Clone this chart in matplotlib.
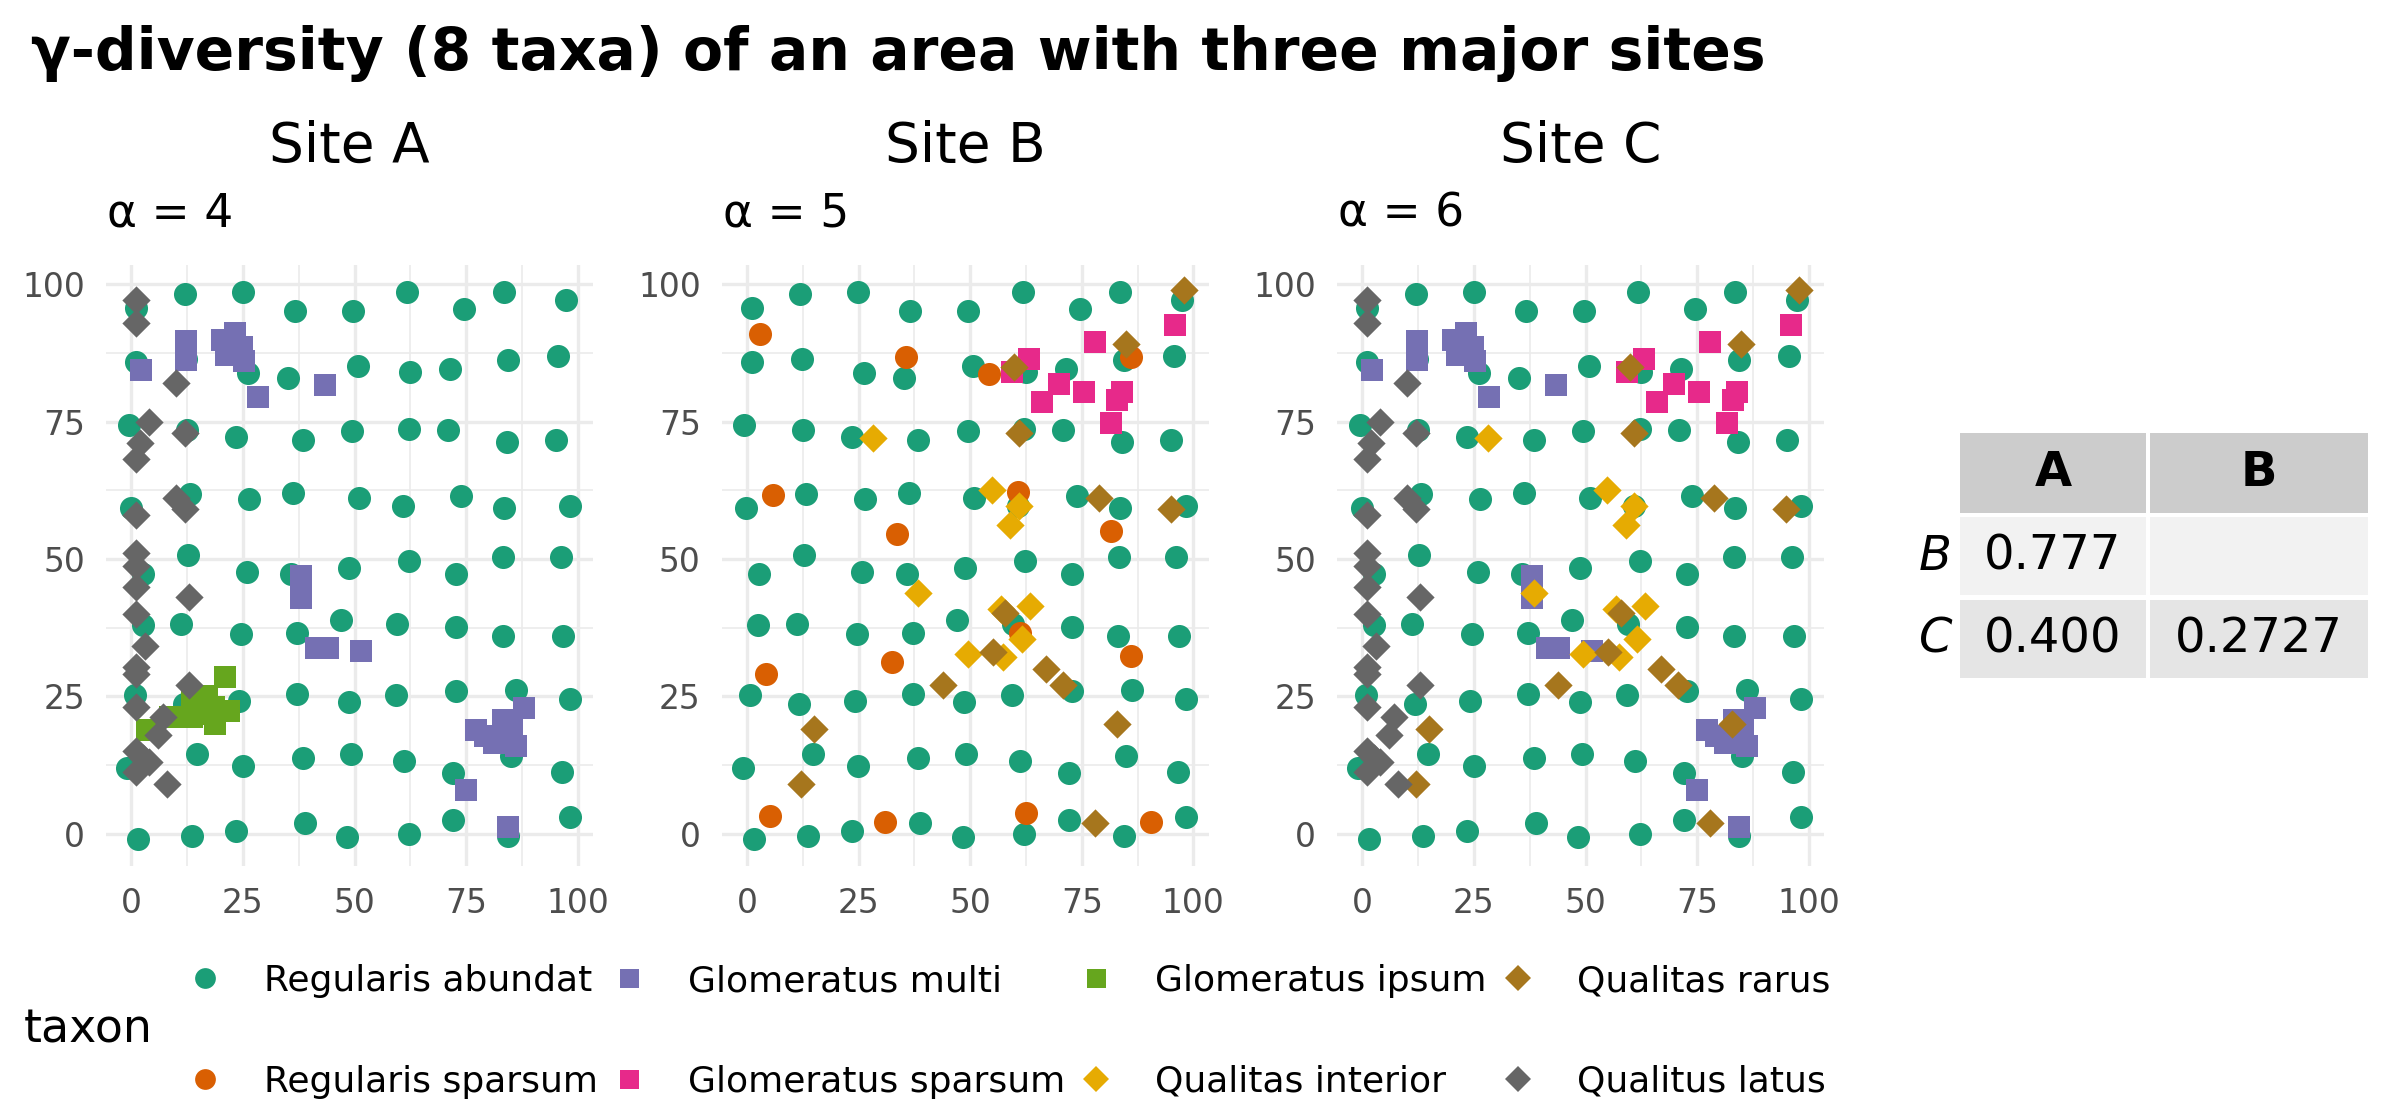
import matplotlib
matplotlib.use('Agg')
import matplotlib.pyplot as plt
from matplotlib.lines import Line2D
from matplotlib.patches import Rectangle
from matplotlib.ticker import MultipleLocator

plt.rcParams['font.family'] = ['DejaVu Sans']

# ---------------- data ----------------
taxa = ['Regularis abundat', 'Regularis sparsum', 'Glomeratus multi', 'Glomeratus sparsum',
        'Glomeratus ipsum', 'Qualitas interior', 'Qualitas rarus', 'Qualitus latus']
taxon_colors = ['#1B9E77', '#D95F02', '#7570B3', '#E7298A', '#66A61E', '#E6AB02', '#A6761D', '#666666']

reg_abundat_x = [1.0, 11.9, 24.9, 36.6, 49.6, 61.8, 74.5, 83.6, 97.5,
                 1.1, 12.2, 26.1, 35.2, 50.7, 62.4, 71.5, 84.5, 95.7,
                 -0.6, 12.5, 23.5, 38.4, 49.4, 62.1, 70.9, 84.1, 95.1,
                 -0.2, 13.1, 26.4, 36.2, 50.9, 60.8, 73.9, 83.6, 98.3,
                 2.6, 12.7, 25.8, 35.8, 48.8, 62.2, 72.7, 83.3, 96.2,
                 2.5, 11.1, 24.6, 37.2, 47.0, 59.6, 72.7, 83.2, 96.8,
                 0.7, 11.7, 24.2, 37.1, 48.7, 59.3, 72.8, 86.2, 98.4,
                 -1.0, 14.8, 24.9, 38.4, 49.1, 61.2, 72.1, 85.0, 96.5,
                 1.5, 13.6, 23.5, 38.8, 48.3, 62.1, 72.1, 84.5, 98.4]
reg_abundat_y = [95.7, 98.3, 98.5, 95.1, 95.1, 98.5, 95.4, 98.5, 97.1,
                 85.9, 86.3, 83.9, 83.0, 85.1, 84.0, 84.5, 86.2, 86.9,
                 74.3, 73.4, 72.2, 71.7, 73.3, 73.6, 73.4, 71.3, 71.6,
                 59.3, 61.9, 60.9, 62.0, 61.1, 59.7, 61.4, 59.3, 59.6,
                 47.3, 50.7, 47.7, 47.3, 48.3, 49.6, 47.3, 50.4, 50.3,
                 37.9, 38.1, 36.4, 36.6, 38.8, 38.2, 37.6, 35.9, 35.9,
                 25.2, 23.6, 24.2, 25.4, 24.0, 25.3, 26.0, 26.2, 24.5,
                 12.0, 14.5, 12.3, 13.7, 14.4, 13.2, 11.1, 14.2, 11.2,
                 -0.9, -0.4, 0.4, 1.9, -0.7, -0.1, 2.4, -0.5, 3.0]

reg_sparsum_x = [2.8, 35.5, 54.2, 86.0, 5.7, 60.6, 33.5, 81.6, 61.2, 32.4, 4.3, 86.0, 5.2, 31.0, 62.4, 90.5]
reg_sparsum_y = [90.9, 86.8, 83.7, 86.8, 61.7, 62.2, 54.6, 55.0, 36.5, 31.2, 29.0, 32.3, 3.2, 2.1, 3.8, 2.2]

glo_multi_x = [2.2, 12.3, 12.2, 20.3, 23.3, 24.8, 21.1, 25.3, 28.4, 43.3, 38.0, 37.9, 41.4, 44.1, 51.4,
               87.9, 77.2, 83.3, 79.3, 81.2, 85.3, 86.1, 83.4, 75.0, 84.3]
glo_multi_y = [84.4, 89.7, 86.2, 89.8, 91.1, 88.6, 87.1, 86.1, 79.4, 81.7, 46.8, 42.9, 33.8, 33.8, 33.3,
               22.8, 18.9, 20.7, 17.7, 16.5, 18.8, 16.0, 17.5, 8.0, 1.2]

glo_sparsum_x = [96.0, 78.0, 63.1, 59.4, 69.9, 75.4, 84.0, 83.0, 66.1, 81.6]
glo_sparsum_y = [92.5, 89.4, 86.3, 84.1, 81.9, 80.4, 80.4, 78.9, 78.5, 74.7]

glo_ipsum_x = [20.9, 17.0, 21.8, 18.5, 18.7, 13.6, 13.6, 8.7, 3.5, 15.5]
glo_ipsum_y = [28.5, 25.1, 22.4, 23.0, 19.9, 21.3, 24.2, 21.2, 18.8, 21.8]

qua_interior_x = [28.2, 54.9, 60.9, 59.0, 38.4, 56.9, 63.3, 61.6, 49.5, 57.4]
qua_interior_y = [72.0, 62.6, 59.6, 56.1, 43.8, 40.9, 41.5, 35.4, 32.7, 32.1]

qua_rarus_x = [97.9, 84.9, 59.9, 60.9, 78.9, 94.9, 57.9, 55.0, 66.9, 70.8, 43.9, 82.9, 14.9, 12.0, 78.0]
qua_rarus_y = [99.0, 89.1, 85.0, 73.0, 61.1, 59.0, 40.1, 33.0, 30.0, 27.0, 27.0, 20.0, 19.0, 9.0, 2.0]

qua_latus_x = [1.0, 1.0, 10.0, 4.0, 12.1, 2.0, 1.0, 10.1, 11.9, 1.0, 1.0, 1.0, 1.0, 13.0, 1.0, 3.0,
               1.0, 1.0, 12.9, 1.0, 7.0, 5.9, 1.0, 3.9, 1.0, 8.0, 2.5]
qua_latus_y = [97.1, 93.0, 82.0, 75.0, 73.0, 71.1, 68.1, 61.0, 59.1, 58.0, 51.1, 48.8, 44.9, 43.0, 40.0, 34.1,
               30.3, 29.1, 27.0, 23.0, 21.3, 18.0, 15.1, 13.0, 11.2, 9.0, 13.8]

taxon_xy = {
    'Regularis abundat': (reg_abundat_x, reg_abundat_y),
    'Regularis sparsum': (reg_sparsum_x, reg_sparsum_y),
    'Glomeratus multi': (glo_multi_x, glo_multi_y),
    'Glomeratus sparsum': (glo_sparsum_x, glo_sparsum_y),
    'Glomeratus ipsum': (glo_ipsum_x, glo_ipsum_y),
    'Qualitas interior': (qua_interior_x, qua_interior_y),
    'Qualitas rarus': (qua_rarus_x, qua_rarus_y),
    'Qualitus latus': (qua_latus_x, qua_latus_y),
}

sites = ['Site A', 'Site B', 'Site C']
site_taxa = {
    'Site A': ['Regularis abundat', 'Glomeratus multi', 'Glomeratus ipsum', 'Qualitus latus'],
    'Site B': ['Regularis abundat', 'Regularis sparsum', 'Glomeratus sparsum', 'Qualitas interior', 'Qualitas rarus'],
    'Site C': ['Regularis abundat', 'Glomeratus multi', 'Glomeratus sparsum', 'Qualitas interior',
               'Qualitas rarus', 'Qualitus latus'],
}
alpha_vals = [4, 5, 6]

table_cols = ['A', 'B']
table_rows = ['B', 'C']
table_vals = [['0.777', ''], ['0.400', '0.2727']]

title = 'γ-diversity (8 taxa) of an area with three major sites'

# ---------------- style ----------------
def taxon_marker(t):
    if t.startswith('Regularis'):
        return 'o'
    if t.startswith('Glomeratus'):
        return 's'
    return 'D'

msize = {'o': 8.3, 's': 7.6, 'D': 7.2}

W, H = 2400, 1113
DPI = 200
fig = plt.figure(figsize=(W / DPI, H / DPI), dpi=DPI)
fig.patch.set_facecolor('white')

panel_left_px = [106, 721.7, 1337]
panel_w_px = 487
panel_top_px, panel_bot_px = 265, 866

tick_col = '#4D4D4D'
for i, site in enumerate(sites):
    l = panel_left_px[i] / W
    b = 1 - panel_bot_px / H
    ax = fig.add_axes([l, b, panel_w_px / W, (panel_bot_px - panel_top_px) / H])
    ax.set_xlim(-5.7, 103.45)
    ax.set_ylim(-5.9, 103.5)
    ax.xaxis.set_major_locator(MultipleLocator(25))
    ax.yaxis.set_major_locator(MultipleLocator(25))
    ax.xaxis.set_minor_locator(MultipleLocator(12.5))
    ax.yaxis.set_minor_locator(MultipleLocator(12.5))
    ax.grid(which='major', color='#EBEBEB', linewidth=1.2)
    ax.grid(which='minor', color='#EBEBEB', linewidth=0.6)
    ax.set_axisbelow(True)
    for s in ax.spines.values():
        s.set_visible(False)
    ax.tick_params(which='both', length=0, labelsize=11.9, labelcolor=tick_col, pad=7.5)
    for t in taxa:
        if t not in site_taxa[site]:
            continue
        xs, ys = taxon_xy[t]
        m = taxon_marker(t)
        ax.scatter(xs, ys, s=msize[m] ** 2, marker=m, c=taxon_colors[taxa.index(t)],
                   linewidths=0, zorder=3)
    cx = (panel_left_px[i] + panel_w_px / 2) / W
    fig.text(cx, 1 - 147 / H, site, ha='center', va='center', fontsize=19.8)
    fig.text((panel_left_px[i] + 1) / W, 1 - 214 / H, 'α = %d' % alpha_vals[i],
             ha='left', va='center', fontsize=16.4)

fig.text(31 / W, 1 - 54 / H, title, ha='left', va='center', fontsize=21.0, fontweight='bold')

# ---------------- legend ----------------
handles = []
for t, c in zip(taxa, taxon_colors):
    m = taxon_marker(t)
    handles.append(Line2D([], [], linestyle='none', marker=m, markersize=msize[m] * 0.9,
                          markerfacecolor=c, markeredgewidth=0))
fig.legend(handles, taxa, loc='upper left', bbox_to_anchor=(187 / W, 1 - 964 / H),
           ncol=4, frameon=False, borderpad=0, borderaxespad=0, handlelength=1.0,
           handletextpad=1.14, columnspacing=0.35, labelspacing=1.85, fontsize=13)
fig.text(24 / W, 1 - 1030 / H, 'taxon', ha='left', va='center', fontsize=16.5)

# ---------------- table ----------------
tax = fig.add_axes([0, 0, 1, 1])
tax.set_xlim(0, W)
tax.set_ylim(H, 0)
tax.axis('off')
col_x = [(1960, 2146), (2150, 2368)]
row_y = [(517, 595), (600, 678)]
head_y = (433, 513)
row_bg = ['#F2F2F2', '#E5E5E5']
for j, cname in enumerate(table_cols):
    x0, x1 = col_x[j]
    tax.add_patch(Rectangle((x0, head_y[0]), x1 - x0, head_y[1] - head_y[0], facecolor='#CCCCCC',
                            edgecolor='none'))
    tax.text((x0 + x1) / 2, (head_y[0] + head_y[1]) / 2, cname, ha='center', va='center',
             fontsize=17.3, fontweight='bold')
for r, rname in enumerate(table_rows):
    y0, y1 = row_y[r]
    tax.text(1952, (y0 + y1) / 2, rname, ha='right', va='center', fontsize=17.3, fontstyle='italic')
    for j in range(len(table_cols)):
        x0, x1 = col_x[j]
        tax.add_patch(Rectangle((x0, y0), x1 - x0, y1 - y0, facecolor=row_bg[r], edgecolor='none'))
        tax.text((x0 + x1) / 2, (y0 + y1) / 2, table_vals[r][j], ha='center', va='center',
                 fontsize=17.3)

fig.savefig('out.png', dpi=DPI, facecolor='white')
